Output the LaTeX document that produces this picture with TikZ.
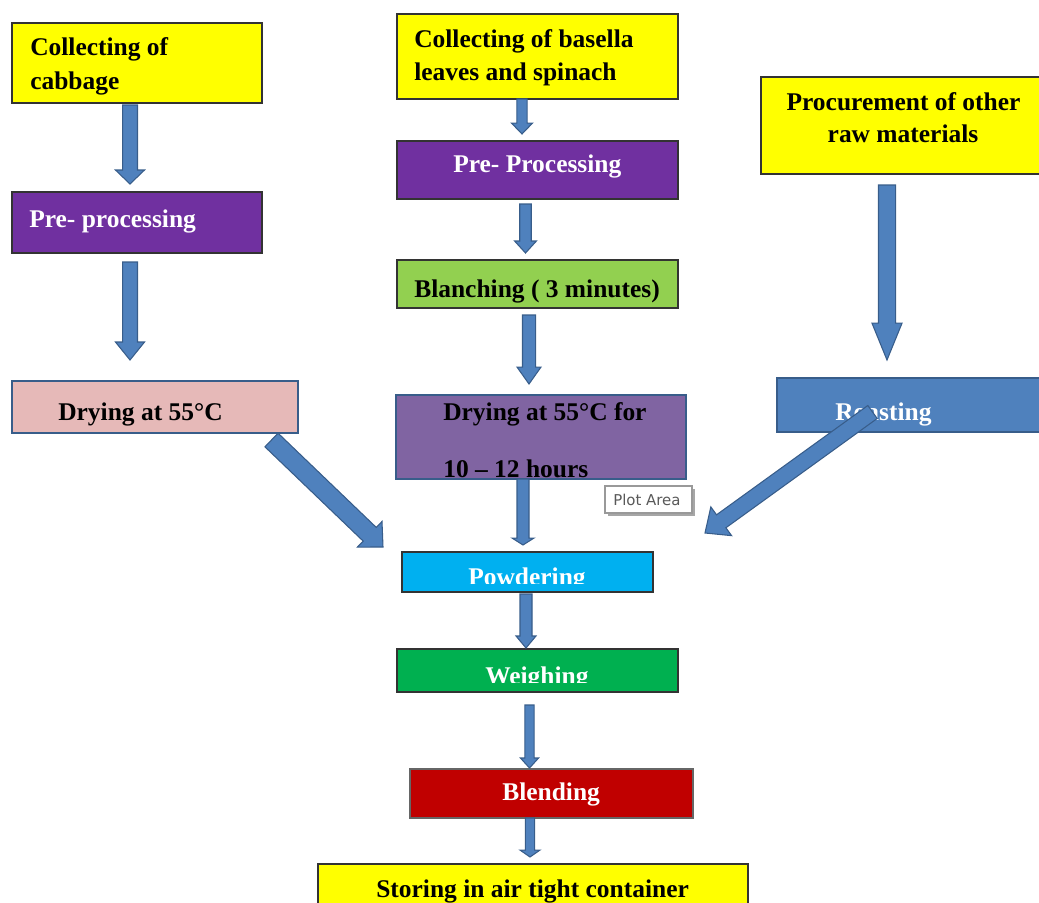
\documentclass[tikz,border=0pt]{standalone}
\usepackage{fontspec}
\setmainfont{Liberation Serif}
\newfontfamily\tipfont{DejaVu Sans}
\usetikzlibrary{calc,fit}
\definecolor{cYellow}{HTML}{FFFF00}
\definecolor{cPurple}{HTML}{7030A0}
\definecolor{cGreenL}{HTML}{92D050}
\definecolor{cPink}{HTML}{E6B9B8}
\definecolor{cLilac}{HTML}{8064A2}
\definecolor{cBlue}{HTML}{4F81BD}
\definecolor{cBlueDk}{HTML}{385D8A}
\definecolor{cCyan}{HTML}{00B0F0}
\definecolor{cGreen}{HTML}{00B050}
\definecolor{cRed}{HTML}{C00000}
\definecolor{cTip}{HTML}{595959}
\newcommand{\blockarrow}[5]{%
  \coordinate (ba-A) at #1;
  \coordinate (ba-B) at #2;
  \coordinate (ba-H) at ($(ba-B)!#5!(ba-A)$);
  \draw[blockarr] ($(ba-A)!#3!90:(ba-B)$) -- ($(ba-H)!#3!90:(ba-B)$) -- ($(ba-H)!#4!90:(ba-B)$) -- (ba-B)
    -- ($(ba-H)!#4!-90:(ba-B)$) -- ($(ba-H)!#3!-90:(ba-B)$) -- ($(ba-A)!#3!-90:(ba-B)$) -- cycle;}
\begin{document}
\begin{tikzpicture}[x=0.75pt,y=-0.75pt,
  box/.style={draw=#1, inner sep=0pt, outer sep=0pt, line width=1pt},
  box/.default={black!80},
  txt/.style={anchor=base west, inner sep=0pt, font=\bfseries\fontsize{19.1}{25}\selectfont},
  ctxt/.style={anchor=base, inner sep=0pt, font=\bfseries\fontsize{19.1}{25}\selectfont},
  blockarr/.style={fill=cBlue, draw=cBlueDk, line width=0.8pt, line join=miter}]
\useasboundingbox (0,0) rectangle (1039,903);
\clip (0,0) rectangle (1039,903);

% boxes
\node[box, fill=cYellow, fit={(12,23) (262,103)}] (cab) {};
\node[box, fill=cPurple, fit={(12,192) (262,253)}] (pre1) {};
\node[box=cBlueDk, fill=cPink, fit={(12,381) (298,433)}] (dry1) {};
\node[box, fill=cYellow, fit={(397,14) (678,99)}] (bas) {};
\node[box, fill=cPurple, fit={(397,141) (678,199)}] (pre2) {};
\node[box, fill=cGreenL, fit={(397,260) (678,308)}] (bla) {};
\node[box=cBlueDk, fill=cLilac, fit={(396,395) (686,479)}] (dry2) {};
\node[box, fill=cYellow, fit={(761,77) (1046,174)}] (proc) {};
\node[box=cBlueDk, fill=cBlue, fit={(777,378) (1046,432)}] (roa) {};
\node[box, fill=cCyan, fit={(402,552) (653,592)}] (pow) {};
\node[box, fill=cGreen, fit={(397,649) (678,692)}] (wei) {};
\node[box=black!60, fill=cRed, fit={(410,769) (693,818)}] (ble) {};
\node[box, fill=cYellow, fit={(318,864) (748,912)}] (sto) {};

% texts
\node[txt] (cabT1) at (30,55) {Collecting of};
\node[txt] (cabT2) at (30,89) {cabbage};
\node[txt, text=white] (pre1T) at (29,227) {Pre- processing};
\node[txt] (dry1T) at (58,420) {Drying at 55°C};
\node[txt] (basT1) at (414,47) {Collecting of basella};
\node[txt] (basT2) at (414,80) {leaves and spinach};
\node[txt, text=white] (pre2T) at (453,172) {Pre- Processing};
\node[txt] (blaT) at (414,297) {Blanching ( 3 minutes)};
\node[txt] (dry2T1) at (443,420) {Drying at 55°C for};
\node[txt] (dry2T2) at (443,477) {10 – 12 hours};
\node[ctxt] (procT1) at (903.5,110) {Procurement of other};
\node[ctxt] (procT2) at (903,142) {raw materials};
\node[txt, text=white] (roaT) at (835,420) {Roasting};
\begin{scope}
  \clip (402,552) rectangle (653,583);
  \node[txt, text=white] (powT) at (468,585) {Powdering};
\end{scope}
\begin{scope}
  \clip (397,649) rectangle (678,682);
  \node[txt, text=white] (weiT) at (485,684) {Weighing};
\end{scope}
\node[txt, text=white] (bleT) at (502,800) {Blending};
\node[txt] (stoT) at (376,897) {Storing in air tight container};

% arrows
\blockarrow{($(cab.south)+(-7,2)$)}{($(pre1.north)+(-7,-8)$)}{5.6pt}{10.9pt}{10.5pt}
\blockarrow{($(pre1.south)+(-7,9)$)}{($(dry1.north)+(-25,-21)$)}{5.6pt}{10.9pt}{13.5pt}
\blockarrow{($(bas.south)+(-15.5,0)$)}{($(pre2.north)+(-15.5,-7)$)}{3.8pt}{7.9pt}{8.2pt}
\blockarrow{($(pre2.south)+(-12,5)$)}{($(bla.north)+(-12,-7)$)}{4.3pt}{8.2pt}{9pt}
\blockarrow{($(bla.south)+(-8.5,7)$)}{($(dry2.north)+(-12,-11)$)}{4.9pt}{9pt}{12.7pt}
\blockarrow{($(dry2.south)+(-18,0)$)}{($(pow.north)+(-4.5,-7)$)}{4.5pt}{8.2pt}{5.2pt}
\blockarrow{($(pow.south)+(-1.5,2)$)}{($(wei.north)+(-11.5,-1)$)}{4.5pt}{7.5pt}{9pt}
\blockarrow{($(wei.south)+(-8,13)$)}{($(ble.north)+(-22,-1)$)}{3.5pt}{6.8pt}{7.5pt}
\blockarrow{($(ble.south)+(-21.5,0)$)}{($(sto.north)+(-3,-7)$)}{3.5pt}{7.5pt}{5.2pt}
\blockarrow{($(proc.south)+(-16.5,11)$)}{($(roa.north)+(-24.5,-18)$)}{6.4pt}{11.3pt}{27.7pt}
\blockarrow{($(dry1.south east)+(-26.5,7)$)}{($(pow.north west)+(-19,-5)$)}{7.1pt}{13.3pt}{13.8pt}
\blockarrow{($(roa.center)+(-39,7)$)}{($(pow.north east)+(52,-19)$)}{6pt}{13.3pt}{15pt}

% tooltip
\fill[black!35] (608,489) rectangle (695,516);
\node[draw=black!40, fill=white, line width=0.8pt, inner sep=0pt, outer sep=0pt, fit={(605,486) (692,513)}] (tip) {};
\node[anchor=base west, inner sep=0pt, text=cTip, font=\tipfont\fontsize{11.2}{13}\selectfont] (tipT) at (613,505) {Plot Area};
\end{tikzpicture}
\end{document}
